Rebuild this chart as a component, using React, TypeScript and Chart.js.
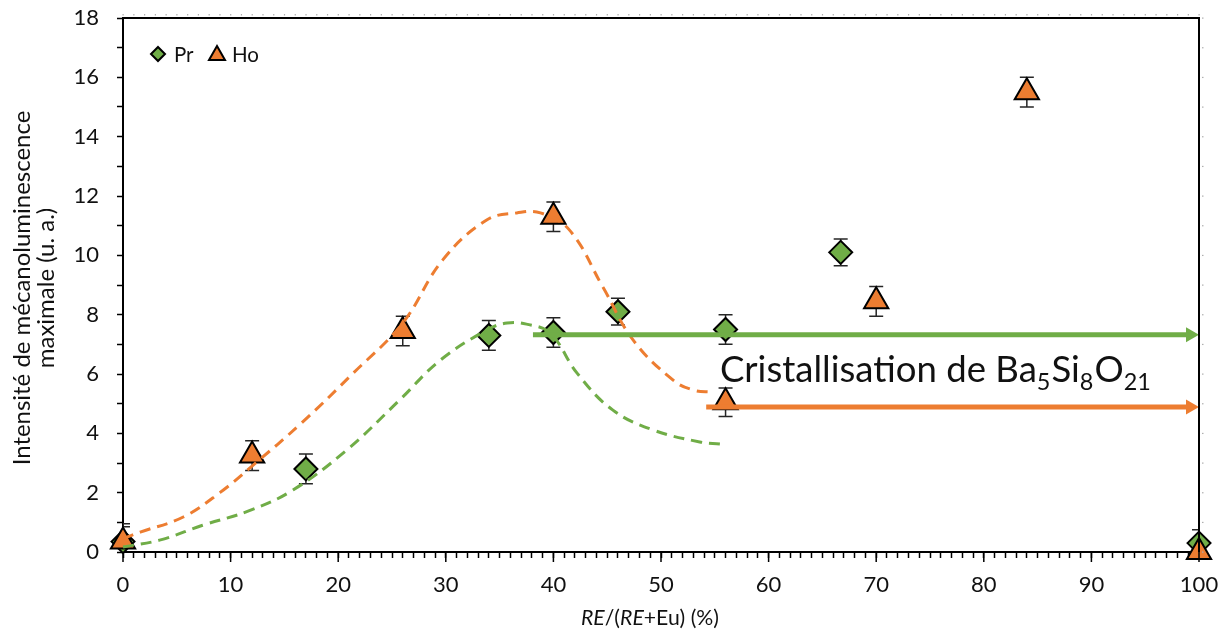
import React, { useEffect, useRef } from "react";
import { Chart, registerables } from "chart.js";

Chart.register(...registerables);

// ---- Data ----
const prX = [0, 17, 34, 40, 46, 56, 66.7, 100];
const prY = [0.35, 2.8, 7.3, 7.4, 8.1, 7.5, 10.1, 0.3];
const prErr = [0.6, 0.5, 0.5, 0.5, 0.45, 0.5, 0.45, 0.45];

const hoX = [0, 12, 26, 40, 56, 70, 84, 100];
const hoY = [0.35, 3.25, 7.45, 11.3, 5.05, 8.45, 15.5, 0.0];
const hoErr = [0.5, 0.5, 0.5, 0.5, 0.48, 0.5, 0.5, 0];

const hoCurveX = [0, 1.6, 5.6, 9, 12.1, 16.6, 21.4, 26, 29.7, 33.8, 36.6, 38.8, 41.5, 44.6, 47.4, 51.1, 53, 54.8];
const hoCurveY = [0.45, 0.67, 1.18, 2.0, 2.93, 4.35, 6.03, 7.72, 9.84, 11.19, 11.43, 11.43, 10.85, 8.93, 7.15, 5.8, 5.46, 5.39];

const prCurveX = [0, 3.4, 7.4, 11.8, 15.8, 20.8, 25.7, 29.5, 33.8, 35.7, 37.5, 39.7, 42.2, 45.5, 49.3, 53.6, 55.5];
const prCurveY = [0.17, 0.4, 0.9, 1.4, 2.09, 3.44, 5.12, 6.47, 7.48, 7.72, 7.68, 7.38, 6.03, 4.79, 4.11, 3.71, 3.64];

// arrows: [start x, level y]
const prArrow = [38.1, 7.32];
const hoArrow = [54.2, 4.89];

const seriesNames = ["Pr", "Ho"];
const annotationText = ["Cristallisation de Ba", "5", "Si", "8", "O", "21"];
const yTitleLines = ["Intensité de mécanoluminescence", "maximale (u. a.)"];
const xTitleParts: [string, boolean][] = [["RE", true], ["/(", false], ["RE", true], ["+Eu) (%)", false]];

const GREEN = "#70AD47";
const ORANGE = "#ED7D31";
const TEXT = "#111111";
const FONT = "Lato";

const pts = (xs: number[], ys: number[]) => xs.map((v, i) => ({ x: v, y: ys[i] }));

const fitSize = (ctx: any, text: string, target: number, style = "") => {
  ctx.font = `${style}40px ${FONT}`;
  return (40 * target) / ctx.measureText(text).width;
};

const zeroPad = (s: any) => {
  s.paddingTop = 0;
  s.paddingBottom = 0;
  s.paddingLeft = 0;
  s.paddingRight = 0;
};

const decor = {
  id: "decor",
  beforeDatasetsDraw(chart: any) {
    const { ctx, scales, chartArea } = chart;
    const x = scales.x, y = scales.y;
    ctx.save();
    ctx.beginPath();
    ctx.rect(chartArea.left, chartArea.top - 20, chartArea.right - chartArea.left, chartArea.bottom - chartArea.top + 20);
    ctx.clip();
    ctx.strokeStyle = "#262626";
    ctx.lineWidth = 1.5;
    const drawErr = (xs: number[], ys: number[], es: number[]) => {
      xs.forEach((xv, i) => {
        if (es[i] <= 0) return;
        const px = x.getPixelForValue(xv);
        const t = y.getPixelForValue(ys[i] + es[i]);
        const b = y.getPixelForValue(ys[i] - es[i]);
        ctx.beginPath();
        ctx.moveTo(px, t); ctx.lineTo(px, b);
        ctx.moveTo(px - 7, t); ctx.lineTo(px + 7, t);
        ctx.moveTo(px - 7, b); ctx.lineTo(px + 7, b);
        ctx.stroke();
      });
    };
    drawErr(prX, prY, prErr);
    drawErr(hoX, hoY, hoErr);
    ctx.restore();
  },
  afterDatasetsDraw(chart: any) {
    const { ctx, scales, chartArea } = chart;
    const x = scales.x, y = scales.y;
    ctx.save();
    // arrows
    const drawArrow = (a: number[], color: string) => {
      const x0 = x.getPixelForValue(a[0]);
      const x1 = chartArea.right;
      const py = y.getPixelForValue(a[1]);
      ctx.strokeStyle = color;
      ctx.fillStyle = color;
      ctx.lineWidth = 5;
      ctx.beginPath();
      ctx.moveTo(x0, py); ctx.lineTo(x1 - 10, py);
      ctx.stroke();
      ctx.beginPath();
      ctx.moveTo(x1, py);
      ctx.lineTo(x1 - 13, py - 7.5);
      ctx.lineTo(x1 - 13, py + 7.5);
      ctx.closePath();
      ctx.fill();
    };
    drawArrow(prArrow, GREEN);
    drawArrow(hoArrow, ORANGE);

    // annotation text
    ctx.fillStyle = TEXT;
    ctx.textBaseline = "alphabetic";
    ctx.textAlign = "left";
    const size = fitSize(ctx, annotationText[0], 317);
    const sub = size * 0.64;
    let tx = 720;
    const base = 382;
    annotationText.forEach((t, i) => {
      const isSub = i % 2 === 1;
      ctx.font = `${isSub ? sub : size}px ${FONT}`;
      ctx.fillText(t, tx, isSub ? base + 8 : base);
      tx += ctx.measureText(t).width + (isSub ? 1 : 0);
    });

    // legend
    ctx.lineWidth = 2;
    ctx.strokeStyle = "#000";
    ctx.fillStyle = GREEN;
    const lx = 158, ly = 54;
    ctx.beginPath();
    ctx.moveTo(lx, ly - 7); ctx.lineTo(lx + 7, ly); ctx.lineTo(lx, ly + 7); ctx.lineTo(lx - 7, ly);
    ctx.closePath(); ctx.fill(); ctx.stroke();
    const tx2 = 217;
    ctx.fillStyle = ORANGE;
    ctx.beginPath();
    ctx.moveTo(tx2, ly - 8); ctx.lineTo(tx2 + 8, ly + 6); ctx.lineTo(tx2 - 8, ly + 6);
    ctx.closePath(); ctx.fill(); ctx.stroke();
    ctx.fillStyle = TEXT;
    const ls = fitSize(ctx, seriesNames[1], 27);
    ctx.font = `${ls}px ${FONT}`;
    ctx.textBaseline = "middle";
    ctx.fillText(seriesNames[0], 174, ly + 1);
    ctx.fillText(seriesNames[1], 232, ly + 1);
    ctx.restore();
  },
  afterDraw(chart: any) {
    const { ctx, scales, chartArea } = chart;
    const x = scales.x, y = scales.y;
    ctx.save();
    // top & right border
    ctx.strokeStyle = "#000";
    ctx.lineWidth = 2;
    ctx.beginPath();
    ctx.moveTo(chartArea.left, chartArea.top);
    ctx.lineTo(chartArea.right, chartArea.top);
    ctx.lineTo(chartArea.right, chartArea.bottom);
    ctx.stroke();
    // longer major x ticks
    ctx.lineWidth = 1.5;
    for (let v = 0; v <= 100; v += 10) {
      const px = x.getPixelForValue(v);
      ctx.beginPath();
      ctx.moveTo(px, chartArea.bottom);
      ctx.lineTo(px, chartArea.bottom + 10);
      ctx.stroke();
    }
    // faint secondary-axis marks
    ctx.fillStyle = "#b0b0b0";
    for (let v = 0; v <= 100; v += 1) {
      const px = x.getPixelForValue(v);
      ctx.fillRect(px - 0.5, chartArea.top - 4, 1.2, 1.5);
    }
    for (let v = 0; v <= 18; v += 1) {
      const py = y.getPixelForValue(v);
      ctx.fillRect(chartArea.right + 3, py - 0.5, 1.5, 1.2);
    }
    // y title
    ctx.fillStyle = TEXT;
    const ys = fitSize(ctx, yTitleLines[0], 355);
    ctx.font = `${ys}px ${FONT}`;
    ctx.textAlign = "center";
    ctx.textBaseline = "middle";
    const cy = 288;
    ctx.save();
    ctx.translate(22, cy);
    ctx.rotate(-Math.PI / 2);
    ctx.fillText(yTitleLines[0], 0, 0);
    ctx.restore();
    ctx.save();
    ctx.translate(46, cy);
    ctx.rotate(-Math.PI / 2);
    ctx.fillText(yTitleLines[1], 0, 0);
    ctx.restore();
    // x title with italic parts
    let total = 0;
    const base = 40;
    xTitleParts.forEach(([t, it]) => {
      ctx.font = `${it ? "italic " : ""}${base}px ${FONT}`;
      total += ctx.measureText(t).width;
    });
    const xsz = (base * 138) / total;
    total = 138;
    let xx = 650 - total / 2;
    ctx.textAlign = "left";
    xTitleParts.forEach(([t, it]) => {
      ctx.font = `${it ? "italic " : ""}${xsz}px ${FONT}`;
      ctx.fillText(t, xx, 618);
      xx += ctx.measureText(t).width;
    });
    ctx.restore();
  },
};

export default function App() {
  const ref = useRef<HTMLCanvasElement | null>(null);
  useEffect(() => {
    if (!ref.current) return;
    Chart.defaults.font.family = FONT;
    const chart = new Chart(ref.current, {
      type: "scatter",
      data: {
        datasets: [
          {
            label: "Ho curve",
            data: pts(hoCurveX, hoCurveY),
            showLine: true,
            borderColor: ORANGE,
            borderWidth: 3,
            borderDash: [11, 7],
            tension: 0.4,
            pointRadius: 0,
            order: 1,
            clip: false,
          } as any,
          {
            label: "Pr curve",
            data: pts(prCurveX, prCurveY),
            showLine: true,
            borderColor: GREEN,
            borderWidth: 3,
            borderDash: [11, 7],
            tension: 0.4,
            pointRadius: 0,
            order: 1,
            clip: false,
          } as any,
          {
            label: seriesNames[1],
            data: pts(hoX, hoY),
            pointStyle: "triangle",
            pointRadius: 14,
            backgroundColor: ORANGE,
            borderColor: "#000",
            borderWidth: 2,
            order: 2,
            clip: false,
          } as any,
          {
            label: seriesNames[0],
            data: pts(prX, prY),
            pointStyle: "rectRot",
            pointRadius: 11.5,
            backgroundColor: GREEN,
            borderColor: "#000",
            borderWidth: 2,
            order: 3,
            clip: false,
          } as any,
        ],
      },
      options: {
        responsive: false,
        maintainAspectRatio: false,
        animation: false,
        layout: { padding: { left: 0, top: 18, right: 28, bottom: 0 } },
        plugins: { legend: { display: false }, tooltip: { enabled: false } },
        scales: {
          x: {
            type: "linear",
            min: 0,
            max: 100,
            afterFit: (s: any) => { s.height = 84; zeroPad(s); },
            grid: { drawOnChartArea: false, drawTicks: true, tickLength: 6, tickColor: "#000", tickWidth: 1.5 },
            border: { display: true, color: "#000", width: 2 },
            ticks: {
              stepSize: 1,
              autoSkip: false,
              maxRotation: 0,
              padding: 14,
              color: TEXT,
              font: { size: 22, family: FONT },
              callback: (v: any) => (Number(v) % 10 === 0 ? String(v) : ""),
            },
          },
          y: {
            type: "linear",
            min: 0,
            max: 18,
            afterFit: (s: any) => { s.width = 123; zeroPad(s); },
            grid: { drawOnChartArea: false, drawTicks: true, tickLength: 6, tickColor: "#000", tickWidth: 1.5 },
            border: { display: true, color: "#000", width: 2 },
            ticks: {
              stepSize: 1,
              autoSkip: false,
              padding: 18,
              color: TEXT,
              font: { size: 22, family: FONT },
              callback: (v: any) => (Number(v) % 2 === 0 ? String(v) : ""),
            },
          },
        },
      },
      plugins: [decor],
    } as any);
    return () => chart.destroy();
  }, []);
  return (
    <div style={{ position: "fixed", left: 0, top: 0, width: 1227, height: 636, background: "#fff" }}>
      <canvas ref={ref} width={1227} height={636} style={{ width: 1227, height: 636, display: "block" }} />
    </div>
  );
}
